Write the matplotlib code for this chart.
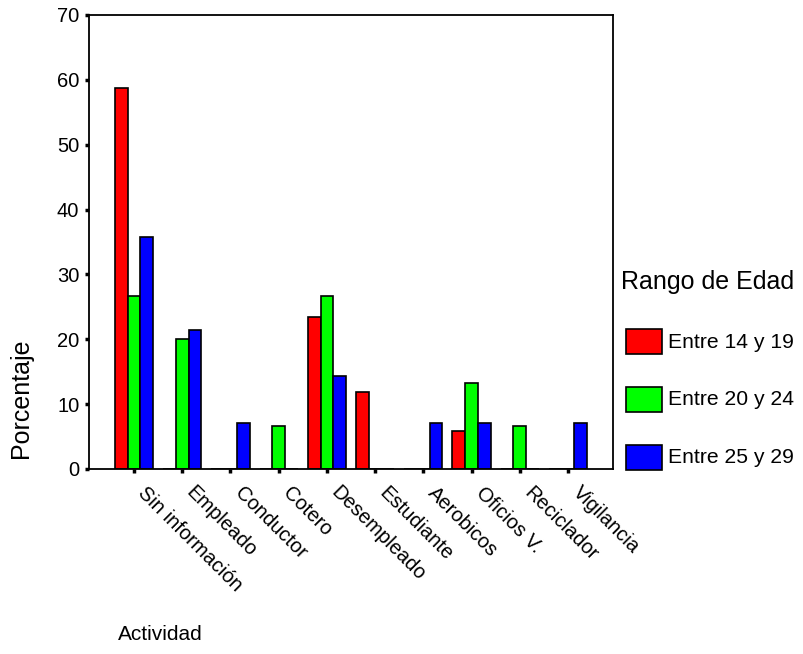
import numpy as np
import matplotlib.pyplot as plt
import matplotlib.transforms as mtransforms
from matplotlib.patches import Rectangle

plt.rcParams['font.family'] = ['Liberation Sans', 'DejaVu Sans']

# datos (porcentaje por actividad y rango de edad)
actividades = ['Sin información', 'Empleado', 'Conductor', 'Cotero', 'Desempleado',
               'Estudiante', 'Aerobicos', 'Oficios V.', 'Reciclador', 'Vigilancia']
rangos = ['Entre 14 y 19', 'Entre 20 y 24', 'Entre 25 y 29']
entre_14_19 = [58.8, 0, 0, 0, 23.5, 11.8, 0, 5.9, 0, 0]
entre_20_24 = [26.7, 20.0, 0, 6.7, 26.7, 0, 0, 13.3, 6.7, 0]
entre_25_29 = [35.7, 21.4, 7.1, 0, 14.3, 0, 7.1, 7.1, 0, 7.1]
colores = ['#ff0000', '#00ff00', '#0000ff']

W, H = 804, 654
fig = plt.figure(figsize=(W / 100, H / 100), dpi=100)
ax = fig.add_axes([89 / W, 1 - 469 / H, (613 - 89) / W, (469 - 15) / H])

x = np.arange(len(actividades))
w = 0.263
for i, serie in enumerate([entre_14_19, entre_20_24, entre_25_29]):
    ax.bar(x + (i - 1) * w, serie, width=w, color=colores[i],
           edgecolor='black', linewidth=1.2, zorder=2)

ax.set_xlim(-0.935, 9.935)
ax.set_ylim(0, 70)
ax.set_yticks(range(0, 71, 10))
ax.set_xticks(x)
ax.set_xticklabels([])
ax.tick_params(axis='y', labelsize=14.5, length=3, width=2.5, pad=4)
ax.tick_params(axis='x', length=3, width=2.5)
for s in ax.spines.values():
    s.set_linewidth(1.3)

# etiquetas de categoria giradas, algo desplazadas a la derecha como en el original
desplaza = mtransforms.ScaledTranslation(14 / 100, -14 / 100, fig.dpi_scale_trans)
for xi, nombre in zip(x, actividades):
    ax.text(xi, 0, nombre, transform=ax.get_xaxis_transform() + desplaza,
            rotation=-45, ha='left', va='top', rotation_mode='anchor', fontsize=14.5)

fig.text(21 / W, 1 - 398 / H, 'Porcentaje', rotation=90, fontsize=18,
         va='center', ha='center')
fig.text(118 / W, 1 - 635 / H, 'Actividad', fontsize=15, ha='left', va='center')

# leyenda dibujada a mano
fig.text(621 / W, 1 - 289 / H, 'Rango de Edad', fontsize=18, ha='left', va='baseline')
for i, (c, r) in enumerate(zip(colores, rangos)):
    yc = 342 + i * 57.7
    fig.patches.append(Rectangle((626 / W, 1 - (yc + 12.5) / H), 36 / W, 25 / H,
                                 transform=fig.transFigure, facecolor=c,
                                 edgecolor='black', linewidth=1.2))
    fig.text(668 / W, 1 - yc / H, r, fontsize=15.2, ha='left', va='center')

fig.savefig('out.png', dpi=100)
